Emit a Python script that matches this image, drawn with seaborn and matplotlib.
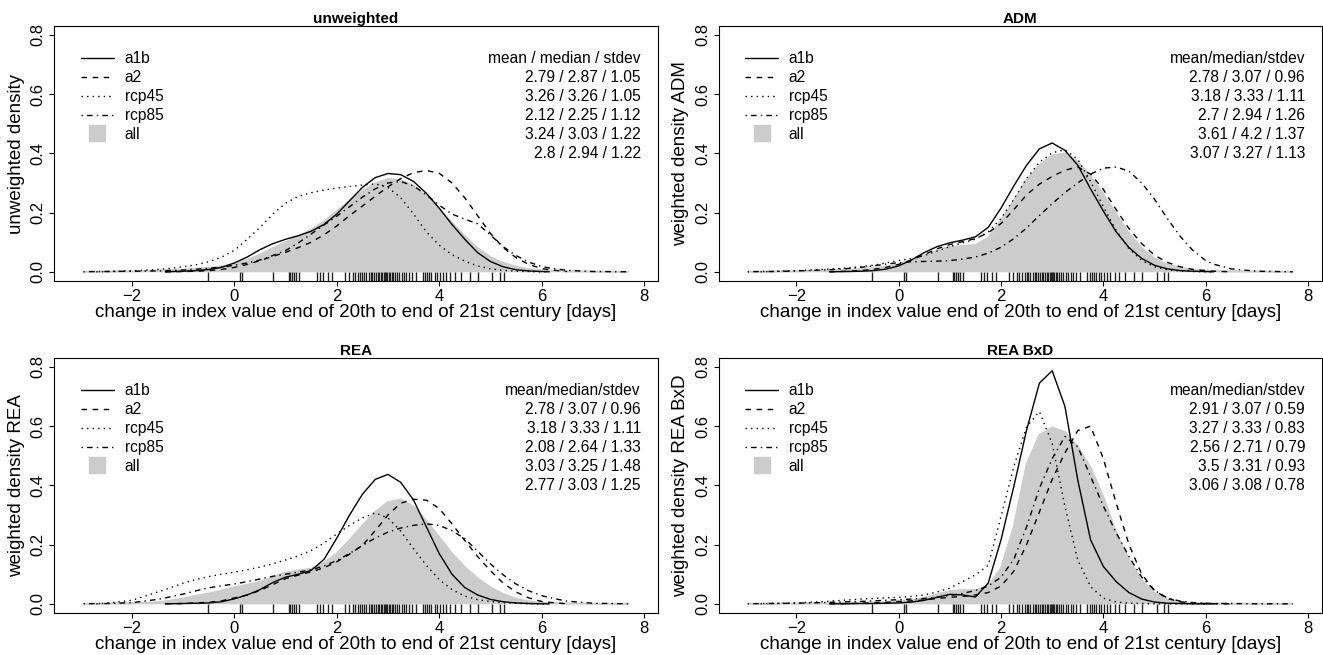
import numpy as np
import pandas as pd
import matplotlib
matplotlib.use("Agg")
import matplotlib.pyplot as plt
from matplotlib.lines import Line2D
import seaborn as sns

nan = np.nan

X_GRID = [-2.95, -2.7, -2.5, -2.0, -1.5, -1.35, -1.0, -0.75, -0.5, -0.25,
          0.0, 0.25, 0.5, 0.75, 1.0, 1.25, 1.5, 1.75, 2.0, 2.25,
          2.5, 2.75, 3.0, 3.25, 3.5, 3.75, 4.0, 4.25, 4.5, 4.75,
          5.0, 5.25, 5.5, 5.75, 6.0, 6.15, 6.5, 7.0, 7.7]

SCENARIOS = ["a1b", "a2", "rcp45", "rcp85"]

# --- unweighted ---
UNW_A1B = [nan, nan, nan, nan, nan, 0, 0.002, 0.004, 0.008, 0.015,
           0.03, 0.05, 0.075, 0.095, 0.11, 0.122, 0.137, 0.16, 0.195, 0.24,
           0.285, 0.318, 0.332, 0.328, 0.305, 0.265, 0.215, 0.16, 0.11, 0.065,
           0.035, 0.017, 0.007, 0.003, 0.001, 0, nan, nan, nan]
UNW_A2 = [nan, nan, nan, nan, nan, 0, 0.001, 0.002, 0.004, 0.008,
          0.015, 0.025, 0.038, 0.052, 0.066, 0.082, 0.10, 0.125, 0.155, 0.19,
          0.222, 0.255, 0.287, 0.315, 0.335, 0.342, 0.333, 0.3, 0.25, 0.19,
          0.13, 0.082, 0.048, 0.025, 0.011, 0.007, 0.001, nan, nan]
UNW_RCP45 = [nan, 0, 0.001, 0.003, 0.008, 0.01, 0.017, 0.024, 0.034, 0.05,
             0.073, 0.11, 0.15, 0.195, 0.232, 0.255, 0.267, 0.276, 0.283, 0.288,
             0.293, 0.297, 0.285, 0.25, 0.195, 0.135, 0.09, 0.058, 0.036, 0.02,
             0.01, 0.005, 0.002, 0.001, 0, 0, nan, nan, nan]
UNW_RCP85 = [0, 0.001, 0.001, 0.002, 0.003, 0.004, 0.006, 0.009, 0.012, 0.016,
             0.022, 0.03, 0.04, 0.055, 0.072, 0.098, 0.128, 0.158, 0.188, 0.22,
             0.252, 0.28, 0.3, 0.305, 0.29, 0.26, 0.225, 0.195, 0.178, 0.162,
             0.125, 0.085, 0.055, 0.033, 0.018, 0.013, 0.005, 0.001, 0]
UNW_ALL = [0, 0.001, 0.001, 0.002, 0.004, 0.005, 0.007, 0.01, 0.013, 0.018,
           0.027, 0.04, 0.058, 0.08, 0.1, 0.12, 0.142, 0.17, 0.205, 0.24,
           0.273, 0.298, 0.313, 0.31, 0.29, 0.255, 0.212, 0.165, 0.12, 0.08,
           0.05, 0.03, 0.017, 0.009, 0.005, 0.004, 0.002, 0.001, 0]
UNW_STATS = ["mean / median / stdev", "2.79 / 2.87 / 1.05", "3.26 / 3.26 / 1.05",
             "2.12 / 2.25 / 1.12", "3.24 / 3.03 / 1.22", "2.8 / 2.94 / 1.22"]

# --- ADM ---
ADM_A1B = [nan, nan, nan, nan, nan, 0, 0.001, 0.002, 0.004, 0.009,
           0.02, 0.04, 0.065, 0.085, 0.098, 0.107, 0.118, 0.15, 0.215, 0.29,
           0.36, 0.415, 0.435, 0.41, 0.36, 0.28, 0.205, 0.135, 0.082, 0.045,
           0.022, 0.01, 0.004, 0.002, 0.001, 0, nan, nan, nan]
ADM_A2 = [nan, nan, nan, nan, nan, 0, 0.002, 0.004, 0.008, 0.015,
          0.025, 0.04, 0.058, 0.078, 0.092, 0.102, 0.112, 0.132, 0.163, 0.21,
          0.26, 0.296, 0.322, 0.343, 0.354, 0.33, 0.278, 0.21, 0.146, 0.095,
          0.056, 0.032, 0.017, 0.008, 0.004, 0.002, 0, nan, nan]
ADM_RCP45 = [nan, 0, 0.001, 0.004, 0.008, 0.009, 0.013, 0.017, 0.022, 0.03,
             0.038, 0.045, 0.055, 0.07, 0.085, 0.098, 0.11, 0.135, 0.18, 0.245,
             0.315, 0.37, 0.402, 0.412, 0.38, 0.305, 0.22, 0.14, 0.078, 0.038,
             0.017, 0.007, 0.003, 0.001, 0, 0, nan, nan, nan]
ADM_RCP85 = [0, 0.001, 0.001, 0.003, 0.006, 0.007, 0.011, 0.015, 0.02, 0.026,
             0.031, 0.034, 0.035, 0.036, 0.038, 0.043, 0.05, 0.063, 0.083, 0.112,
             0.148, 0.19, 0.23, 0.268, 0.3, 0.33, 0.35, 0.354, 0.34, 0.3,
             0.245, 0.18, 0.12, 0.072, 0.038, 0.026, 0.01, 0.002, 0]
ADM_ALL = [0, 0.001, 0.001, 0.002, 0.004, 0.005, 0.007, 0.009, 0.012, 0.017,
           0.025, 0.038, 0.055, 0.072, 0.083, 0.087, 0.09, 0.115, 0.172, 0.24,
           0.31, 0.36, 0.393, 0.4, 0.372, 0.322, 0.262, 0.195, 0.13, 0.08,
           0.045, 0.024, 0.013, 0.007, 0.004, 0.003, 0.002, 0.001, 0]
ADM_STATS = ["mean/median/stdev", "2.78 / 3.07 / 0.96", "3.18 / 3.33 / 1.11",
             "2.7 / 2.94 / 1.26", "3.61 / 4.2 / 1.37", "3.07 / 3.27 / 1.13"]

# --- REA ---
REA_A1B = [nan, nan, nan, nan, nan, 0, 0.001, 0.002, 0.003, 0.007,
           0.017, 0.03, 0.048, 0.072, 0.09, 0.1, 0.113, 0.15, 0.222, 0.3,
           0.37, 0.42, 0.437, 0.41, 0.35, 0.26, 0.17, 0.1, 0.055, 0.03,
           0.015, 0.007, 0.003, 0.001, 0, 0, nan, nan, nan]
REA_A2 = [nan, nan, nan, nan, nan, 0, 0.001, 0.003, 0.005, 0.01,
          0.02, 0.03, 0.045, 0.065, 0.085, 0.097, 0.108, 0.122, 0.142, 0.168,
          0.197, 0.247, 0.3, 0.34, 0.353, 0.35, 0.322, 0.27, 0.214, 0.16,
          0.112, 0.07, 0.04, 0.02, 0.008, 0.005, 0, nan, nan]
REA_RCP45 = [nan, 0, 0.002, 0.012, 0.04, 0.048, 0.07, 0.082, 0.092, 0.1,
             0.107, 0.115, 0.124, 0.135, 0.148, 0.162, 0.18, 0.205, 0.236, 0.265,
             0.29, 0.307, 0.29, 0.245, 0.186, 0.13, 0.082, 0.048, 0.026, 0.014,
             0.008, 0.004, 0.002, 0.001, 0, 0, nan, nan, nan]
REA_RCP85 = [0, 0.001, 0.001, 0.004, 0.015, 0.02, 0.033, 0.044, 0.054, 0.061,
             0.067, 0.075, 0.084, 0.093, 0.1, 0.107, 0.115, 0.128, 0.146, 0.17,
             0.197, 0.222, 0.242, 0.256, 0.265, 0.27, 0.265, 0.247, 0.22, 0.178,
             0.135, 0.098, 0.067, 0.044, 0.028, 0.021, 0.009, 0.002, 0]
REA_ALL = [0, 0, 0.001, 0.002, 0.005, 0.008, 0.018, 0.027, 0.035, 0.045,
           0.056, 0.064, 0.074, 0.09, 0.105, 0.113, 0.118, 0.138, 0.17, 0.215,
           0.264, 0.31, 0.343, 0.352, 0.328, 0.28, 0.225, 0.17, 0.124, 0.086,
           0.056, 0.033, 0.017, 0.008, 0.004, 0.003, 0.001, 0, 0]
REA_STATS = ["mean/median/stdev", "2.78 / 3.07 / 0.96", "3.18 / 3.33 / 1.11",
             "2.08 / 2.64 / 1.33", "3.03 / 3.25 / 1.48", "2.77 / 3.03 / 1.25"]

# --- REA BxD ---
BXD_A1B = [nan, nan, nan, nan, nan, 0, 0, 0.001, 0.001, 0.002,
           0.003, 0.006, 0.012, 0.022, 0.032, 0.03, 0.023, 0.07, 0.216, 0.396,
           0.587, 0.745, 0.787, 0.666, 0.418, 0.216, 0.126, 0.075, 0.038, 0.016,
           0.006, 0.002, 0.001, 0, 0, 0, nan, nan, nan]
BXD_A2 = [nan, nan, nan, nan, nan, 0, 0.001, 0.002, 0.003, 0.005,
          0.008, 0.01, 0.013, 0.018, 0.022, 0.025, 0.03, 0.038, 0.06, 0.11,
          0.2, 0.31, 0.42, 0.51, 0.585, 0.6, 0.49, 0.34, 0.2, 0.1,
          0.045, 0.018, 0.007, 0.002, 0.001, 0, 0, nan, nan]
BXD_RCP45 = [nan, 0, 0.001, 0.003, 0.007, 0.009, 0.013, 0.016, 0.018, 0.02,
             0.022, 0.025, 0.03, 0.04, 0.053, 0.075, 0.098, 0.13, 0.295, 0.463,
             0.598, 0.649, 0.542, 0.328, 0.148, 0.058, 0.019, 0.006, 0.002, 0.001,
             0, 0, 0, 0, 0, 0, nan, nan, nan]
BXD_RCP85 = [0, 0.001, 0.001, 0.002, 0.004, 0.005, 0.007, 0.008, 0.01, 0.012,
             0.014, 0.016, 0.018, 0.022, 0.028, 0.035, 0.045, 0.06, 0.09, 0.15,
             0.26, 0.39, 0.49, 0.565, 0.53, 0.43, 0.33, 0.24, 0.16, 0.09,
             0.045, 0.02, 0.009, 0.004, 0.002, 0.001, 0.001, 0, 0]
BXD_ALL = [0, 0, 0.001, 0.001, 0.002, 0.002, 0.003, 0.004, 0.005, 0.006,
           0.008, 0.012, 0.02, 0.032, 0.042, 0.046, 0.046, 0.06, 0.12, 0.26,
           0.47, 0.57, 0.595, 0.58, 0.53, 0.46, 0.36, 0.24, 0.15, 0.08,
           0.036, 0.015, 0.006, 0.002, 0.001, 0.001, 0, 0, 0]
BXD_STATS = ["mean/median/stdev", "2.91 / 3.07 / 0.59", "3.27 / 3.33 / 0.83",
             "2.56 / 2.71 / 0.79", "3.5 / 3.31 / 0.93", "3.06 / 3.08 / 0.78"]

# model values shown as rug (same in every panel)
RUG = [-0.52, 0.10, 0.14, 0.76, 1.06, 1.09, 1.12, 1.16, 1.20, 1.26,
       1.61, 1.67, 1.73, 1.82, 1.91, 2.16, 2.23, 2.31, 2.36, 2.41,
       2.46, 2.50, 2.53, 2.57, 2.63, 2.66, 2.69, 2.72, 2.76, 2.80,
       2.83, 2.86, 2.89, 2.92, 2.95, 2.97, 2.99, 3.02, 3.04, 3.07,
       3.10, 3.13, 3.17, 3.21, 3.27, 3.31, 3.36, 3.41, 3.46, 3.55,
       3.68, 3.73, 3.77, 3.81, 3.85, 3.91, 3.96, 4.02, 4.07, 4.13,
       4.22, 4.30, 4.43, 4.60, 4.75, 5.04, 5.19, 5.27]

PANELS = [
    ("unweighted", "unweighted density", [UNW_A1B, UNW_A2, UNW_RCP45, UNW_RCP85], UNW_ALL, UNW_STATS),
    ("ADM", "weighted density ADM", [ADM_A1B, ADM_A2, ADM_RCP45, ADM_RCP85], ADM_ALL, ADM_STATS),
    ("REA", "weighted density REA", [REA_A1B, REA_A2, REA_RCP45, REA_RCP85], REA_ALL, REA_STATS),
    ("REA BxD", "weighted density REA BxD", [BXD_A1B, BXD_A2, BXD_RCP45, BXD_RCP85], BXD_ALL, BXD_STATS),
]

DASHES = {"a1b": "", "a2": (4, 4), "rcp45": (1, 3), "rcp85": (1, 3, 4, 3)}
GREY = "#cccccc"

sns.set_theme(style="white")
plt.rcParams["font.family"] = ["Liberation Sans", "DejaVu Sans"]
plt.rcParams.update({
    "axes.edgecolor": "black", "axes.linewidth": 0.8,
    "text.color": "black", "axes.labelcolor": "black",
    "xtick.color": "black", "ytick.color": "black",
})

W, H = 1323, 655
fig = plt.figure(figsize=(W / 100, H / 100), dpi=100)

# axes boxes in pixels: left, top
boxes = [(54.3, 26), (718.5, 26), (54.3, 358), (718.5, 358)]
BW, BH = 603.4, 255

for (title, ylab, curves, all_vals, stats), (px, py) in zip(PANELS, boxes):
    ax = fig.add_axes([px / W, 1 - (py + BH) / H, BW / W, BH / H])

    # pooled density as grey area
    ax.fill_between(X_GRID, 0, all_vals, color=GREY, lw=0)
    ax.plot(X_GRID, all_vals, color=GREY, lw=1.5, solid_capstyle="butt")

    frames = []
    for name, vals in zip(SCENARIOS, curves):
        frames.append(pd.DataFrame({"x": X_GRID, "density": vals, "scenario": name}))
    df = pd.concat(frames).dropna()
    sns.lineplot(data=df, x="x", y="density", style="scenario", style_order=SCENARIOS,
                 dashes=DASHES, color="black", lw=1.0, estimator=None, sort=False,
                 legend=False, ax=ax)

    sns.rugplot(x=RUG, ax=ax, height=0.035, color="#222222", lw=0.8, expand_margins=False)

    ax.set_xlim(-3.52, 8.27)
    ax.set_ylim(-0.031, 0.830)
    ax.set_xticks([-2, 0, 2, 4, 6, 8])
    ax.set_xticklabels(["\u22122", "0", "2", "4", "6", "8"])
    ax.set_yticks([0, 0.2, 0.4, 0.6, 0.8])
    ax.set_yticklabels(["0.0", "0.2", "0.4", "0.6", "0.8"], rotation=90, va="center")
    ax.tick_params(direction="out", length=3.6, width=0.8, labelsize=12, pad=2.5,
                   bottom=True, left=True)
    for sp in ax.spines.values():
        sp.set_visible(True)

    ax.set_xlabel("change in index value end of 20th to end of 21st century [days]", fontsize=13.5)
    ax.set_ylabel(ylab, fontsize=13.5)
    ax.xaxis.set_label_coords(0.5, -0.09)
    ax.yaxis.set_label_coords(-0.0486, 0.5)
    ax.set_title(title, fontsize=11, fontweight="bold", pad=2.5)

    handles = [Line2D([], [], color="black", lw=1.0, ls="-")]
    for s in SCENARIOS[1:]:
        handles.append(Line2D([], [], color="black", lw=1.0, dashes=DASHES[s]))
    handles.append(Line2D([], [], marker="s", markersize=11.5, mfc=GREY, mec=GREY, ls="none"))
    ax.legend(handles, SCENARIOS + ["all"], loc="upper left", bbox_to_anchor=(0.0443, 0.9005),
              frameon=False, fontsize=11.2, handlelength=2.1, handletextpad=0.7,
              labelspacing=0.25, borderpad=0, borderaxespad=0)

    for i, s in enumerate(stats):
        yy = 1 - (58.5 + 19 * i - 26) / BH
        ax.text(0.972, yy, s, ha="right", va="center", fontsize=11.2, transform=ax.transAxes)

fig.savefig("out.png", dpi=100)
